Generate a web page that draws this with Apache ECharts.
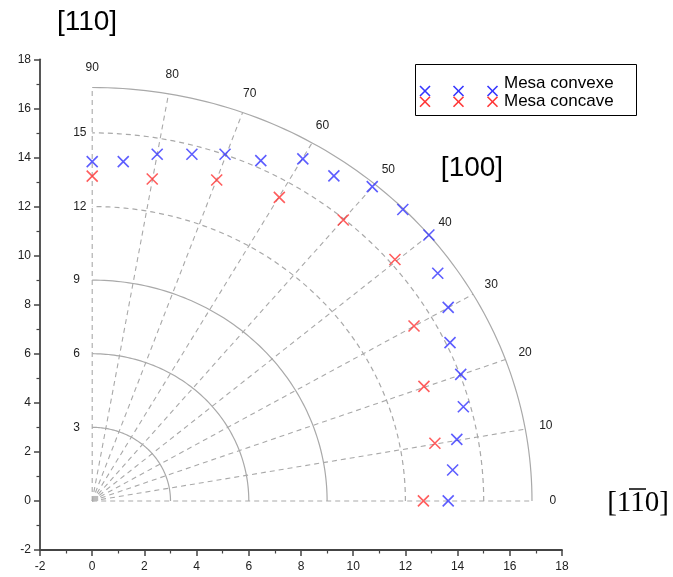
<!DOCTYPE html>
<html><head><meta charset="utf-8">
<script src="https://cdn.jsdelivr.net/npm/echarts@6/dist/echarts.min.js"></script>
<style>html,body{margin:0;padding:0;background:#fff;}#c{width:673px;height:577px;}</style>
</head><body><div id="c"></div>
<script>
// ---- data (cartesian coordinates of the polar points) ----
const convexeX = [0.00, 1.19, 2.49, 3.82, 5.09, 6.46, 8.07, 9.26, 10.73, 11.90, 12.90, 13.24, 13.64, 13.71, 14.12, 14.22, 13.97, 13.81, 13.64];
const convexeY = [13.83, 13.83, 14.13, 14.13, 14.13, 13.87, 13.94, 13.25, 12.81, 11.88, 10.84, 9.28, 7.89, 6.45, 5.16, 3.84, 2.51, 1.26, 0.00];
const concaveX = [0.00, 2.30, 4.77, 7.17, 9.62, 11.60, 12.33, 12.71, 13.13, 12.69];
const concaveY = [13.24, 13.12, 13.08, 12.37, 11.45, 9.84, 7.13, 4.67, 2.35, 0.00];
const seriesNames = ['Mesa convexe', 'Mesa concave'];

// ---- polar grid description ----
const circleRadii = [3, 6, 9, 12, 15];
const circleDashed = [0, 0, 0, 1, 1];
const outerRadius = 16.85;
const spokeAngles = [0, 10, 20, 30, 40, 50, 60, 70, 80, 90];
const angleLabels = ['0', '10', '20', '30', '40', '50', '60', '70', '80', '90'];
const radiusLabels = ['3', '6', '9', '12', '15'];
const angleLabelRadius = 17.65;

// ---- axes ----
const axisMin = -2, axisMax = 18, axisStep = 2;

const BLUE = '#3535ff', RED = '#ff3535', GRID = '#a9a9a9', AXIS = '#444';
const crossPath = 'path://M0,0L10,10M0,10L10,0';
const rad = a => a * Math.PI / 180;

const chart = echarts.init(document.getElementById('c'), null, {renderer: 'canvas'});

const circleData = circleRadii.map((r, i) => [r, circleDashed[i]]).concat([[outerRadius, 0]]);

function crossLines(cx, cy, color) {
  return [
    {type: 'line', z: 12, shape: {x1: cx - 5, y1: cy - 5, x2: cx + 5, y2: cy + 5}, style: {stroke: color, lineWidth: 1.6}},
    {type: 'line', z: 12, shape: {x1: cx - 5, y1: cy + 5, x2: cx + 5, y2: cy - 5}, style: {stroke: color, lineWidth: 1.6}}
  ];
}
const legendMarkX = [425, 458.5, 492.5];
let legendMarks = [];
legendMarkX.forEach(cx => { legendMarks = legendMarks.concat(crossLines(cx, 91, BLUE)); });
legendMarkX.forEach(cx => { legendMarks = legendMarks.concat(crossLines(cx, 101.7, RED)); });

const option = {
  animation: false,
  grid: {left: 40, right: 111, top: 59.3, bottom: 27},
  xAxis: {
    type: 'value', min: axisMin, max: axisMax, interval: axisStep,
    axisLine: {onZero: false, lineStyle: {color: AXIS, width: 1.8}},
    axisTick: {show: true, length: 6, lineStyle: {color: AXIS, width: 1.5}},
    minorTick: {show: true, splitNumber: 2, length: 3.5, lineStyle: {color: AXIS, width: 1.2}},
    splitLine: {show: false},
    axisLabel: {fontSize: 12, color: '#222', margin: 11, fontFamily: 'Liberation Sans'}
  },
  yAxis: {
    type: 'value', min: axisMin, max: axisMax, interval: axisStep,
    axisLine: {onZero: false, lineStyle: {color: AXIS, width: 1.8}},
    axisTick: {show: true, length: 6, lineStyle: {color: AXIS, width: 1.5}},
    minorTick: {show: true, splitNumber: 2, length: 3.5, lineStyle: {color: AXIS, width: 1.2}},
    splitLine: {show: false},
    axisLabel: {fontSize: 12, color: '#222', margin: 9, fontFamily: 'Liberation Sans'}
  },
  series: [
    { // circles
      type: 'custom', silent: true, z: 1,
      data: circleData,
      renderItem: function (params, api) {
        const r = api.value(0), dashed = api.value(1);
        const pts = [];
        for (let a = 0; a <= 90; a += 1) pts.push(api.coord([r * Math.cos(rad(a)), r * Math.sin(rad(a))]));
        return {type: 'polyline', shape: {points: pts},
          style: {stroke: GRID, lineWidth: 1.2, fill: null, lineDash: dashed ? [5, 4] : null}};
      }
    },
    { // spokes
      type: 'custom', silent: true, z: 1,
      data: spokeAngles.map(a => [a, 0]),
      renderItem: function (params, api) {
        const a = rad(api.value(0));
        const p0 = api.coord([0, 0]);
        const p1 = api.coord([outerRadius * Math.cos(a), outerRadius * Math.sin(a)]);
        return {type: 'line', shape: {x1: p0[0], y1: p0[1], x2: p1[0], y2: p1[1]},
          style: {stroke: GRID, lineWidth: 1.1, lineDash: [5, 4]}};
      }
    },
    { // angle labels
      type: 'custom', silent: true, z: 2,
      data: spokeAngles.map((a, i) => [a, i]),
      renderItem: function (params, api) {
        const a = rad(api.value(0));
        const p = api.coord([angleLabelRadius * Math.cos(a), angleLabelRadius * Math.sin(a)]);
        return {type: 'text', x: p[0], y: p[1],
          style: {text: angleLabels[params.dataIndex], fill: '#222', font: '12px "Liberation Sans"',
            align: 'center', verticalAlign: 'middle', textAlign: 'center', textVerticalAlign: 'middle'}};
      }
    },
    { // radius labels + origin mark
      type: 'custom', silent: true, z: 2,
      data: circleRadii.map((r, i) => [r, i]),
      renderItem: function (params, api) {
        const p = api.coord([0, api.value(0)]);
        const children = [{type: 'text', x: p[0] - 19, y: p[1],
          style: {text: radiusLabels[params.dataIndex], fill: '#222', font: '12px "Liberation Sans"',
            align: 'left', verticalAlign: 'middle', textAlign: 'left', textVerticalAlign: 'middle'}}];
        if (params.dataIndex === 0) {
          const o = api.coord([0, 0]);
          children.push({type: 'rect', shape: {x: o[0] + 1, y: o[1] - 5, width: 5, height: 5}, style: {fill: '#bbb'}});
        }
        return {type: 'group', children: children};
      }
    },
    {
      name: seriesNames[0], type: 'scatter', z: 5,
      symbol: crossPath, symbolSize: 11,
      itemStyle: {color: 'rgba(0,0,0,0)', borderColor: BLUE, borderWidth: 1.6},
      data: convexeX.map((x, i) => [x, convexeY[i]])
    },
    {
      name: seriesNames[1], type: 'scatter', z: 5,
      symbol: crossPath, symbolSize: 11,
      itemStyle: {color: 'rgba(0,0,0,0)', borderColor: RED, borderWidth: 1.6},
      data: concaveX.map((x, i) => [x, concaveY[i]])
    }
  ],
  graphic: [
    {type: 'text', x: 87, y: 22, style: {text: '[110]', font: '28px "Liberation Sans"', fill: '#000',
      align: 'center', verticalAlign: 'middle', textAlign: 'center', textVerticalAlign: 'middle'}},
    {type: 'text', x: 472, y: 168, style: {text: '[100]', font: '28px "Liberation Sans"', fill: '#000',
      align: 'center', verticalAlign: 'middle', textAlign: 'center', textVerticalAlign: 'middle'}},
    {type: 'text', x: 638, y: 503, style: {text: '[110]', font: '29px "Liberation Serif"', fill: '#000',
      align: 'center', verticalAlign: 'middle', textAlign: 'center', textVerticalAlign: 'middle'}},
    {type: 'line', shape: {x1: 629, y1: 489, x2: 646, y2: 489}, style: {stroke: '#000', lineWidth: 1.5}},
    // legend box
    {type: 'rect', z: 10, shape: {x: 415.5, y: 64.5, width: 221, height: 51}, style: {fill: '#fff', stroke: '#000', lineWidth: 1}},
    {type: 'group', z: 12, children: legendMarks},
    {type: 'text', z: 11, x: 504, y: 83, style: {text: seriesNames[0], font: '17px "Liberation Sans"', fill: '#000',
      align: 'left', verticalAlign: 'middle', textAlign: 'left', textVerticalAlign: 'middle'}},
    {type: 'text', z: 11, x: 504, y: 101, style: {text: seriesNames[1], font: '17px "Liberation Sans"', fill: '#000',
      align: 'left', verticalAlign: 'middle', textAlign: 'left', textVerticalAlign: 'middle'}}
  ]
};
chart.setOption(option);
</script></body></html>
